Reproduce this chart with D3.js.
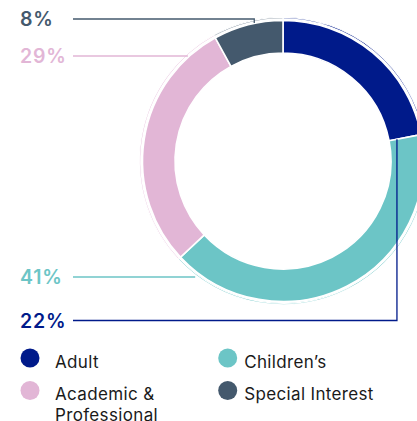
<!DOCTYPE html>
<html><head><meta charset="utf-8">
<script src="https://cdn.jsdelivr.net/npm/d3@7"></script>
<style>
html,body{margin:0;padding:0;background:#fff;}
svg{display:block;}
</style></head>
<body>
<svg id="chart" width="417" height="421"></svg>
<script>
// ---- data ----
const categories = ["Adult", "Children’s", "Academic & Professional", "Special Interest"];
const values = [22, 41, 29, 8];
const valueLabels = ["22%", "41%", "29%", "8%"];
const colors = ["#001a8a", "#6cc5c6", "#e2b6d6", "#44596d"];
const legendOrder = [0, 1, 2, 3];
const legendLines = [["Adult"], ["Children’s"], ["Academic &", "Professional"], ["Special Interest"]];

// ---- layout ----
const W = 417, H = 421;
const cx = 283, cy = 161;
const rInner = 108, rOuter = 140.5, rThinIn = 142.2, rThinOut = 143.7;
const svg = d3.select("#chart");
const font = "Inter, 'Noto Sans', sans-serif";

const pie = d3.pie().sort(null).value(d => d).startAngle(0).endAngle(2 * Math.PI);
const arcs = pie(values);
const arcMain = d3.arc().innerRadius(rInner).outerRadius(rOuter);
const arcThin = d3.arc().innerRadius(rThinIn).outerRadius(rThinOut);

const g = svg.append("g").attr("transform", `translate(${cx},${cy})`);
g.selectAll("path.main").data(arcs).join("path")
  .attr("class", "main")
  .attr("d", arcMain)
  .attr("fill", (d, i) => colors[i])
  .attr("stroke", "#fff").attr("stroke-width", 1.6);
g.selectAll("path.thin").data(arcs).join("path")
  .attr("class", "thin")
  .attr("d", arcThin)
  .attr("fill", (d, i) => colors[i])
  .attr("stroke", "#fff").attr("stroke-width", 1.2);

// ---- leader lines & labels ----
const labelX = 20, lineX0 = 73;
const labelY = { 3: 19, 2: 56, 1: 277, 0: 320.5 };
function circleX(y, r) {
  const dy = y - cy;
  return cx - Math.sqrt(Math.max(0, r * r - dy * dy));
}
const lines = svg.append("g").attr("fill", "none").attr("stroke-width", 1.3);
{
  const i = 3, y = labelY[i];
  const mid = (arcs[i].startAngle + arcs[i].endAngle) / 2 + 0.05;
  const xEnd = cx + rThinOut * Math.sin(mid);
  lines.append("path").attr("stroke", colors[i])
    .attr("d", `M${lineX0},${y}H${xEnd}V${y + 4}`);
}
{
  const i = 2, y = labelY[i];
  lines.append("path").attr("stroke", colors[i])
    .attr("d", `M${lineX0},${y}H${circleX(y, rThinOut) + 3}`);
}
{
  const i = 1, y = labelY[i];
  lines.append("path").attr("stroke", colors[i])
    .attr("d", `M${lineX0},${y}H${circleX(y, rThinOut) - 3}`);
}
{
  const i = 0, y = labelY[i];
  const a = arcs[i].endAngle, r = 116;
  const px = cx + r * Math.sin(a), py = cy - r * Math.cos(a);
  lines.append("path").attr("stroke", colors[i])
    .attr("d", `M${lineX0},${y}H${px}V${py}`);
}
svg.append("g").selectAll("text").data([3, 2, 1, 0]).join("text")
  .attr("x", labelX)
  .attr("y", i => labelY[i] + 7)
  .attr("fill", i => colors[i])
  .attr("font-family", font)
  .attr("font-weight", 600)
  .attr("font-size", 19.5)
  .attr("letter-spacing", 0.8)
  .text(i => valueLabels[i]);

// ---- legend ----
const legPos = [[30, 358], [227.7, 358], [30, 390.5], [227.7, 390.5]];
const leg = svg.append("g");
legendOrder.forEach((ci, k) => {
  const [x, y] = legPos[k];
  leg.append("circle").attr("cx", x).attr("cy", y).attr("r", 9.5).attr("fill", colors[ci]);
  const tx = x + (k % 2 === 0 ? 25 : 16.5);
  const t = leg.append("text")
    .attr("x", tx)
    .attr("y", y + 9.5)
    .attr("fill", "#1a1a1a")
    .attr("font-family", font)
    .attr("font-size", 17)
    .attr("letter-spacing", 0.35);
  legendLines[ci].forEach((ln, j) => {
    t.append("tspan").attr("x", tx).attr("dy", j === 0 ? 0 : 21).text(ln);
  });
});
</script>
</body></html>
